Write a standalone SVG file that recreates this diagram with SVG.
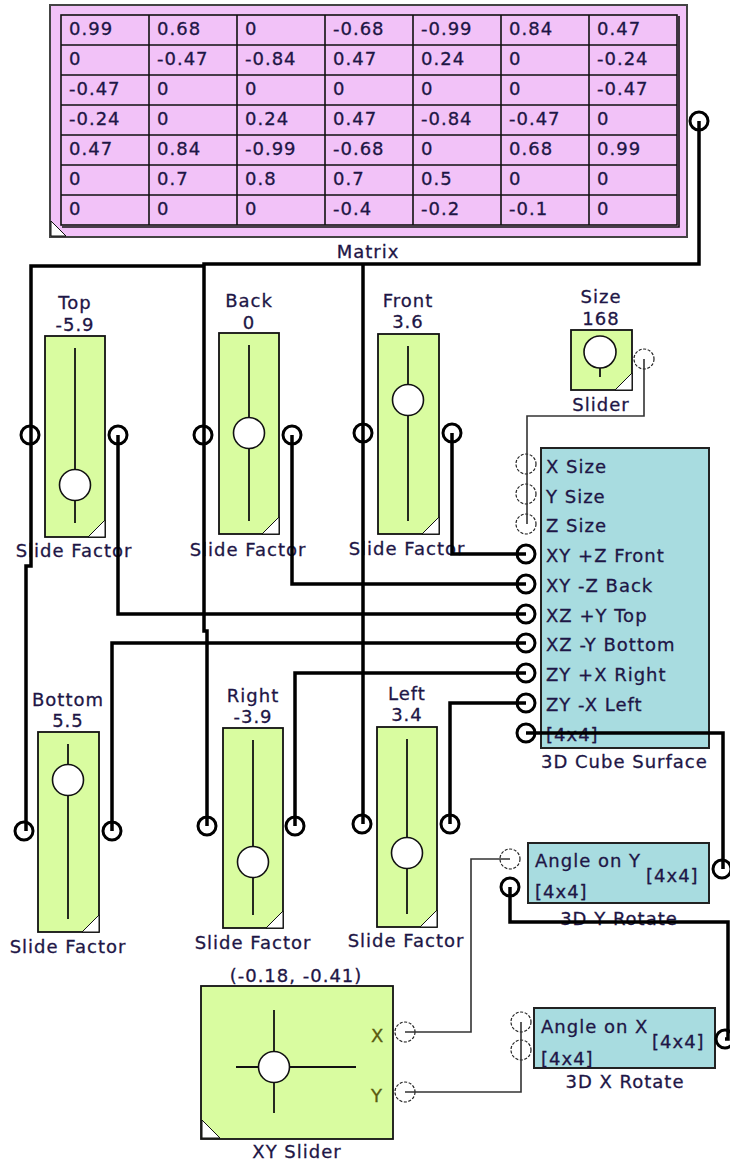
<svg xmlns="http://www.w3.org/2000/svg" width="730" height="1162" viewBox="0 0 730 1162">
<style>
text{font-family:"DejaVu Sans","Liberation Sans",sans-serif;font-size:18px;letter-spacing:1px;fill:#1e1646;stroke:#1e1646;stroke-width:0.3}
.mt{font-size:17.5px;letter-spacing:0.9px}
.c{text-anchor:middle}
.xy{fill:#5a5a10;stroke:#5a5a10}
.sl{fill:#d9fca0;stroke:#111;stroke-width:1.8}
.cu{fill:#a8dce0;stroke:#222;stroke-width:2}
.trk{stroke:#111;stroke-width:1.8;fill:none}
.knob{fill:#fff;stroke:#111;stroke-width:1.6}
.tri{fill:#fff;stroke:#111;stroke-width:1}
.p{fill:#fff;stroke:#000;stroke-width:3}
.pd{fill:#fff;stroke:#222;stroke-width:1.2;stroke-dasharray:3 1.6}
.w{fill:none;stroke:#000;stroke-width:3.5;stroke-linejoin:miter}
.wt{fill:none;stroke:#333;stroke-width:1.6}
.grid{stroke:#111;stroke-width:1.6;fill:none}
</style>

<g id="matrix">
<rect x="50" y="5" width="637" height="232" fill="#f2c2f8" stroke="#444" stroke-width="2"/>
<rect x="61" y="15" width="616" height="210" fill="#f2c2f8" stroke="#111" stroke-width="1.6"/>
<path class="grid" d="M679 16V227H62" stroke-width="1.2" stroke="#333"/>
<path class="grid" d="M149 15V225M237 15V225M325 15V225M413 15V225M501 15V225M589 15V225M61 45H677M61 75H677M61 105H677M61 135H677M61 165H677M61 195H677"/>
<polygon class="tri" points="51,221 51,236 66,236"/>
<g class="mt">
<text x="69" y="35">0.99</text><text x="157" y="35">0.68</text><text x="245" y="35">0</text><text x="333" y="35">-0.68</text><text x="421" y="35">-0.99</text><text x="509" y="35">0.84</text><text x="597" y="35">0.47</text>
<text x="69" y="65">0</text><text x="157" y="65">-0.47</text><text x="245" y="65">-0.84</text><text x="333" y="65">0.47</text><text x="421" y="65">0.24</text><text x="509" y="65">0</text><text x="597" y="65">-0.24</text>
<text x="69" y="95">-0.47</text><text x="157" y="95">0</text><text x="245" y="95">0</text><text x="333" y="95">0</text><text x="421" y="95">0</text><text x="509" y="95">0</text><text x="597" y="95">-0.47</text>
<text x="69" y="125">-0.24</text><text x="157" y="125">0</text><text x="245" y="125">0.24</text><text x="333" y="125">0.47</text><text x="421" y="125">-0.84</text><text x="509" y="125">-0.47</text><text x="597" y="125">0</text>
<text x="69" y="155">0.47</text><text x="157" y="155">0.84</text><text x="245" y="155">-0.99</text><text x="333" y="155">-0.68</text><text x="421" y="155">0</text><text x="509" y="155">0.68</text><text x="597" y="155">0.99</text>
<text x="69" y="185">0</text><text x="157" y="185">0.7</text><text x="245" y="185">0.8</text><text x="333" y="185">0.7</text><text x="421" y="185">0.5</text><text x="509" y="185">0</text><text x="597" y="185">0</text>
<text x="69" y="215">0</text><text x="157" y="215">0</text><text x="245" y="215">0</text><text x="333" y="215">-0.4</text><text x="421" y="215">-0.2</text><text x="509" y="215">-0.1</text><text x="597" y="215">0</text>
</g>
<text class="c" x="368" y="258">Matrix</text>
<circle class="p" cx="699" cy="121" r="9"/>
</g>

<g id="slider-top">
<text class="c" x="75" y="309">Top</text><text class="c" x="75" y="331">-5.9</text>
<rect class="sl" x="45" y="336" width="60" height="201"/>
<line class="trk" x1="75" y1="348" x2="75" y2="523"/>
<polygon class="tri" points="88,537 105,520 105,537"/>
<circle class="knob" cx="75" cy="485" r="15.5"/>
<circle class="p" cx="30" cy="435" r="9"/><circle class="p" cx="118" cy="435" r="9"/>
<text class="c" x="74" y="557">Slide Factor</text>
</g>

<g id="slider-back">
<text class="c" x="249" y="307">Back</text><text class="c" x="249" y="329">0</text>
<rect class="sl" x="219" y="333" width="60" height="201"/>
<line class="trk" x1="249" y1="345" x2="249" y2="521"/>
<polygon class="tri" points="262,534 279,517 279,534"/>
<circle class="knob" cx="249" cy="433" r="15.5"/>
<circle class="p" cx="203" cy="435" r="9"/><circle class="p" cx="292" cy="435" r="9"/>
<text class="c" x="248" y="556">Slide Factor</text>
</g>

<g id="slider-front">
<text class="c" x="408" y="307">Front</text><text class="c" x="408" y="328">3.6</text>
<rect class="sl" x="378" y="334" width="61" height="200"/>
<line class="trk" x1="408" y1="346" x2="408" y2="521"/>
<polygon class="tri" points="422,534 439,517 439,534"/>
<circle class="knob" cx="408" cy="400" r="15.5"/>
<circle class="p" cx="363" cy="433" r="9"/><circle class="p" cx="452" cy="433" r="9"/>
<text class="c" x="407" y="555">Slide Factor</text>
</g>

<g id="slider-size">
<text class="c" x="601" y="303">Size</text><text class="c" x="601" y="325">168</text>
<rect class="sl" x="571" y="330" width="61" height="60"/>
<line class="trk" x1="600" y1="366" x2="600" y2="377"/>
<polygon class="tri" points="615,390 632,373 632,390"/>
<circle class="knob" cx="600" cy="352" r="16"/>
<circle class="pd" cx="644" cy="359" r="10"/>
<text class="c" x="601" y="411">Slider</text>
</g>

<g id="cube-surface">
<rect class="cu" x="541" y="448" width="168" height="300"/>
<text x="546" y="473">X Size</text>
<text x="546" y="503">Y Size</text>
<text x="546" y="532">Z Size</text>
<text x="546" y="562">XY +Z Front</text>
<text x="546" y="592">XY -Z Back</text>
<text x="546" y="622">XZ +Y Top</text>
<text x="546" y="651">XZ -Y Bottom</text>
<text x="546" y="681">ZY +X Right</text>
<text x="546" y="711">ZY -X Left</text>
<text x="546" y="741">[4x4]</text>
<circle class="pd" cx="526" cy="464" r="10"/><circle class="pd" cx="526" cy="494" r="10"/><circle class="pd" cx="526" cy="524" r="10"/>
<circle class="p" cx="526" cy="554" r="9"/><circle class="p" cx="526" cy="584" r="9"/><circle class="p" cx="526" cy="614" r="9"/><circle class="p" cx="526" cy="643" r="9"/><circle class="p" cx="526" cy="673" r="9"/><circle class="p" cx="526" cy="703" r="9"/><circle class="p" cx="526" cy="733" r="9"/>
<text x="541" y="768">3D Cube Surface</text>
</g>

<g id="slider-bottom">
<text class="c" x="68" y="706">Bottom</text><text class="c" x="68" y="727">5.5</text>
<rect class="sl" x="38" y="732" width="61" height="200"/>
<line class="trk" x1="68" y1="744" x2="68" y2="919"/>
<polygon class="tri" points="82,932 99,915 99,932"/>
<circle class="knob" cx="68" cy="780" r="15.5"/>
<circle class="p" cx="24" cy="831" r="9"/><circle class="p" cx="112" cy="831" r="9"/>
<text class="c" x="68" y="953">Slide Factor</text>
</g>

<g id="slider-right">
<text class="c" x="253" y="702">Right</text><text class="c" x="253" y="723">-3.9</text>
<rect class="sl" x="223" y="728" width="60" height="200"/>
<line class="trk" x1="253" y1="740" x2="253" y2="915"/>
<polygon class="tri" points="266,928 283,911 283,928"/>
<circle class="knob" cx="253" cy="862" r="15.5"/>
<circle class="p" cx="207" cy="826" r="9"/><circle class="p" cx="295" cy="826" r="9"/>
<text class="c" x="253" y="949">Slide Factor</text>
</g>

<g id="slider-left">
<text class="c" x="407" y="700">Left</text><text class="c" x="407" y="721">3.4</text>
<rect class="sl" x="377" y="727" width="60" height="200"/>
<line class="trk" x1="407" y1="739" x2="407" y2="914"/>
<polygon class="tri" points="420,927 437,910 437,927"/>
<circle class="knob" cx="407" cy="853" r="15.5"/>
<circle class="p" cx="362" cy="824" r="9"/><circle class="p" cx="450" cy="824" r="9"/>
<text class="c" x="406" y="947">Slide Factor</text>
</g>

<g id="rotate-y">
<rect class="cu" x="528" y="843" width="181" height="60"/>
<text x="535" y="867">Angle on Y</text>
<text x="646" y="882">[4x4]</text>
<text x="535" y="898">[4x4]</text>
<circle class="pd" cx="510" cy="859" r="10"/>
<circle class="p" cx="510" cy="887" r="9"/>
<circle class="p" cx="722" cy="869" r="9"/>
<text class="c" x="619" y="925">3D Y Rotate</text>
</g>

<g id="rotate-x">
<rect class="cu" x="534" y="1008" width="181" height="60"/>
<text x="541" y="1033">Angle on X</text>
<text x="652" y="1048">[4x4]</text>
<text x="541" y="1065">[4x4]</text>
<circle class="pd" cx="521" cy="1022" r="10"/>
<circle class="pd" cx="521" cy="1050" r="10"/>
<circle class="p" cx="725" cy="1039" r="9"/>
<text class="c" x="625" y="1088">3D X Rotate</text>
</g>

<g id="xy-slider">
<text class="c" x="296" y="982">(-0.18, -0.41)</text>
<rect class="sl" x="201" y="986" width="192" height="153"/>
<line class="trk" x1="236" y1="1067" x2="356" y2="1067"/>
<line class="trk" x1="274" y1="1010" x2="274" y2="1113"/>
<polygon class="tri" points="202,1120 202,1138 220,1138"/>
<circle class="knob" cx="274" cy="1067" r="15.5"/>
<text class="xy" x="371" y="1042">X</text>
<text class="xy" x="371" y="1102">Y</text>
<circle class="pd" cx="405" cy="1032" r="10"/>
<circle class="pd" cx="405" cy="1092" r="10"/>
<text class="c" x="297" y="1158">XY Slider</text>
</g>

<g id="connectors">
<path class="w" d="M699 121V264H204V631H207V826"/>
<path class="w" d="M205 266H31V566H26V831"/>
<path class="w" d="M363 264V824"/>
<path class="w" d="M452 433V554H526"/>
<path class="w" d="M292 435V584H526"/>
<path class="w" d="M118 435V614H526"/>
<path class="w" d="M112 831V643H526"/>
<path class="w" d="M295 826V673H526"/>
<path class="w" d="M450 824V703H526"/>
<path class="w" d="M526 733H723V869"/>
<path class="w" d="M510 887V922H728V1039H725"/>
<path class="wt" d="M644 359V416H527V524"/>
<path class="wt" d="M405 1032H471V859H510"/>
<path class="wt" d="M405 1092H521V1022"/>
</g>
</svg>
